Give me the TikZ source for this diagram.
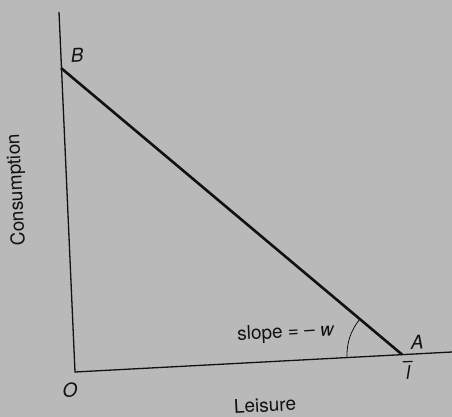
\documentclass[tikz,border=0pt]{standalone}
\usepackage{fontspec}
\setmainfont{TeX Gyre Heros}
\usepackage{xcolor}
\usetikzlibrary{positioning}
\definecolor{escaneo}{HTML}{B9B9B9}
\definecolor{tinta}{HTML}{111111}
\tikzset{
  every picture/.style={font=\fontsize{19}{22}\selectfont},
  eje/.style={draw=tinta, line width=1.3pt},
  recta/.style={draw=tinta, line width=2.6pt},
  etiq/.style={text=tinta, inner sep=1pt, rotate=3},
  punto/.style={etiq, font=\fontsize{19}{22}\selectfont\itshape},
}
\begin{document}
\begin{tikzpicture}[x=1pt, y=1pt]
  \fill[escaneo] (0,0) rectangle (452,417);
  \useasboundingbox (0,0) rectangle (452,417);
  \coordinate (O) at (75,45);
  \coordinate (ytop) at (59,405);
  \coordinate (xend) at (452,65);
  \coordinate (A) at (402,62.5);
  \coordinate (B) at (61,349);
  \draw[eje] (ytop) -- (O) -- (xend);
  \draw[recta] (B) -- (A);
  \draw[tinta, line width=0.8pt] (A) ++(140:55) arc (140:183:55);
  \node[punto] (etB) at (77,362) {B};
  \node[punto] (etA) at (417,75) {A};
  \node[punto] (etl) at (408,45) {l};
  \draw[tinta, line width=1.2pt] ([xshift=-5pt,yshift=2pt]etl.north) -- ([xshift=5pt,yshift=2.5pt]etl.north);
  \node[punto] (etO) at (70,27) {O};
  \node[etiq] (pend) at (286,84) {slope = – \textit{w}};
  \node[etiq] (ocio) at (265,12) {Leisure};
  \node[etiq, rotate=90] (cons) at (17,227) {Consumption};
\end{tikzpicture}
\end{document}
